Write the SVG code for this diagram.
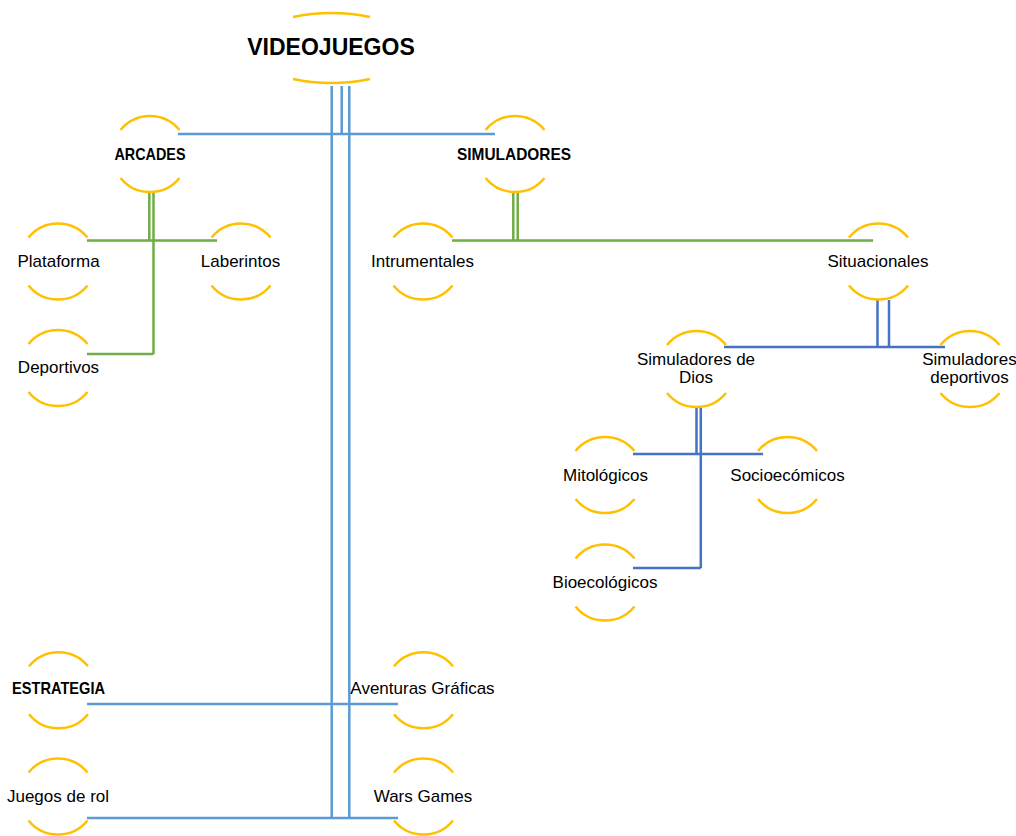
<svg xmlns="http://www.w3.org/2000/svg" width="1016" height="836" viewBox="0 0 1016 836">
<style>
.arc{fill:none;stroke:#FFC000;stroke-width:2.5}
.lb{fill:none;stroke:#5B9BD5;stroke-width:2.5}
.gr{fill:none;stroke:#70AD47;stroke-width:2.5}
.db{fill:none;stroke:#4472C4;stroke-width:2.5}
text{font-family:"Liberation Sans",Arial,sans-serif;font-size:17px;fill:#000;text-anchor:middle}
.b{font-weight:bold}
</style>
<defs>
<path id="arcs" class="arc" d="M-29.5,-24 A38,38 0 0 1 29.5,-24 M-29.5,24 A38,38 0 0 0 29.5,24"/>
</defs>
<rect width="1016" height="836" fill="#fff"/>
<g id="connectors">
<path class="lb" d="M331.7,86 V818 M349.3,86 V818 M341.7,86 V134 M178,134 H495 M87,704 H398 M87,818 H398"/>
<path class="gr" d="M149.3,192 V240.5 M153.5,192 V354 M87,240.5 H217 M153.5,354 H87 M513.3,192 V240.5 M517.7,192 V240.5 M452,240.5 H873"/>
<path class="db" d="M877.5,300 V347 M889,300 V347 M724,347 H945 M696.5,407 V454 M700.8,407 V568 M633,454 H763 M700.8,568 H633"/>
</g>
<g id="videojuegos">
<path class="arc" d="M293,17 A83,35.3 0 0 1 370,17 M293,79 A83,35.3 0 0 0 370,79"/>
<text class="b" x="331" y="55" style="font-size:23px">VIDEOJUEGOS</text>
</g>
<g id="arcades"><use href="#arcs" x="150" y="154"/><text class="b" x="150" y="160" textLength="71" lengthAdjust="spacingAndGlyphs">ARCADES</text></g>
<g id="simuladores"><use href="#arcs" x="515" y="154"/><text class="b" x="514" y="160" textLength="114" lengthAdjust="spacingAndGlyphs">SIMULADORES</text></g>
<g id="plataforma"><use href="#arcs" x="58" y="261.5"/><text x="58.5" y="267">Plataforma</text></g>
<g id="laberintos"><use href="#arcs" x="241" y="261.5"/><text x="240.5" y="267">Laberintos</text></g>
<g id="deportivos"><use href="#arcs" x="58" y="368"/><text x="58.5" y="373">Deportivos</text></g>
<g id="intrumentales"><use href="#arcs" x="423" y="261.5"/><text x="422.5" y="267">Intrumentales</text></g>
<g id="situacionales"><use href="#arcs" x="878.5" y="261.5"/><text x="878" y="267">Situacionales</text></g>
<g id="simuladores-dios"><use href="#arcs" x="696.5" y="369"/><text x="696" y="365">Simuladores de</text><text x="696" y="383">Dios</text></g>
<g id="simuladores-deportivos"><use href="#arcs" x="970" y="369"/><text x="969.5" y="365">Simuladores</text><text x="969.5" y="383">deportivos</text></g>
<g id="mitologicos"><use href="#arcs" x="605" y="475"/><text x="605.5" y="481">Mitológicos</text></g>
<g id="socioecomicos"><use href="#arcs" x="787.5" y="475"/><text x="787.5" y="481">Socioecómicos</text></g>
<g id="bioecologicos"><use href="#arcs" x="605" y="582.5"/><text x="605" y="588">Bioecológicos</text></g>
<g id="estrategia"><use href="#arcs" x="58.5" y="690.3"/><text class="b" x="58.5" y="694" textLength="93" lengthAdjust="spacingAndGlyphs">ESTRATEGIA</text></g>
<g id="aventuras"><use href="#arcs" x="423.5" y="690.3"/><text x="422.5" y="694">Aventuras Gráficas</text></g>
<g id="juegos-rol"><use href="#arcs" x="58" y="796.5"/><text x="58" y="802">Juegos de rol</text></g>
<g id="wars-games"><use href="#arcs" x="423.5" y="796.5"/><text x="423" y="802">Wars Games</text></g>
</svg>
